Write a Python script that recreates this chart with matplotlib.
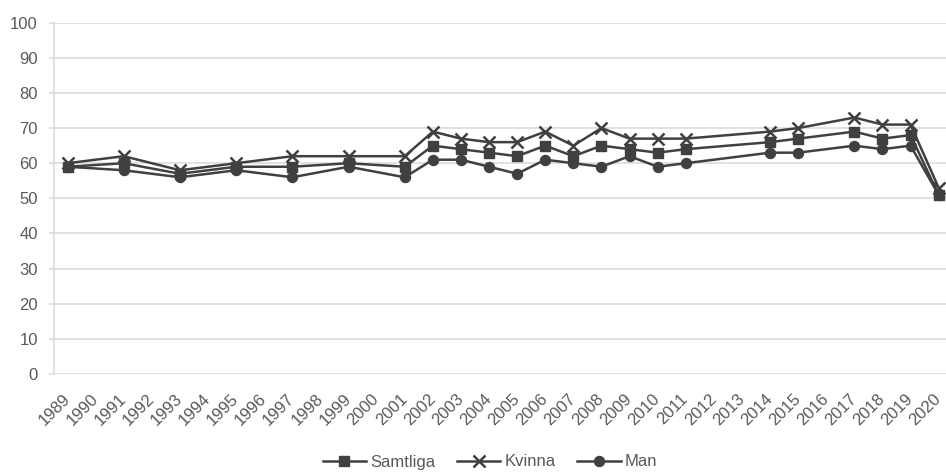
import numpy as np
import matplotlib.pyplot as plt

plt.rcParams['font.family'] = ['Liberation Sans', 'DejaVu Sans']

# category axis: every year from 1989 to 2020
year_labels = [str(y) for y in range(1989, 2021)]

# years that actually have a measurement
data_years = ['1989', '1991', '1993', '1995', '1997', '1999', '2001', '2002',
              '2003', '2004', '2005', '2006', '2007', '2008', '2009', '2010',
              '2011', '2014', '2015', '2017', '2018', '2019', '2020']

samtliga = [59, 60, 57, 59, 59, 60, 59, 65, 64, 63, 62, 65, 62, 65, 64, 63,
            64, 66, 67, 69, 67, 68, 51]
kvinna = [60, 62, 58, 60, 62, 62, 62, 69, 67, 66, 66, 69, 65, 70, 67, 67,
          67, 69, 70, 73, 71, 71, 53]
man = [59, 58, 56, 58, 56, 59, 56, 61, 61, 59, 57, 61, 60, 59, 62, 59,
       60, 63, 63, 65, 64, 65, 51]

x = np.array([year_labels.index(y) for y in data_years])

line_col = '#404040'
grid_col = '#d9d9d9'
text_col = '#595959'

fig = plt.figure(figsize=(9.46, 4.75), dpi=100)
# the chart is cut off slightly on the right side, like the original
ax = fig.add_axes([53.5 / 946, 1 - 374 / 475, (946 - 53.5) / 946, (374 - 22.7) / 475])

ax.plot(x, samtliga, color=line_col, lw=1.8, marker='s', ms=7.2, label='Samtliga')
ax.plot(x, kvinna, color=line_col, lw=1.8, marker='x', ms=8, mew=1.8, label='Kvinna')
ax.plot(x, man, color=line_col, lw=1.8, marker='o', ms=7.2, label='Man')

ax.set_ylim(0, 100)
ax.set_yticks(range(0, 101, 10))
ax.set_xlim(-0.5, -0.5 + (946 - 53.5) / 28.1)
ax.set_xticks(range(len(year_labels)))
ax.set_xticklabels(year_labels, rotation=45, ha='right', va='center',
                   rotation_mode='anchor')

ax.grid(axis='y', color=grid_col, lw=1.1)
ax.set_axisbelow(True)
for s in ['top', 'right', 'bottom']:
    ax.spines[s].set_visible(False)
ax.spines['left'].set_color(grid_col)
ax.spines['left'].set_linewidth(1.1)

ax.tick_params(axis='y', colors=text_col, labelsize=12, length=3.3,
               color=grid_col, width=1.1, pad=8)
ax.tick_params(axis='x', colors=text_col, labelsize=12, length=0, pad=16)

ax.legend(loc='center', bbox_to_anchor=(490 / 946, 13 / 475),
          bbox_transform=fig.transFigure, ncol=3, frameon=False,
          fontsize=12, labelcolor=text_col, handlelength=2.6,
          handletextpad=0.25, columnspacing=1.3)

fig.savefig('out.png', dpi=100)
